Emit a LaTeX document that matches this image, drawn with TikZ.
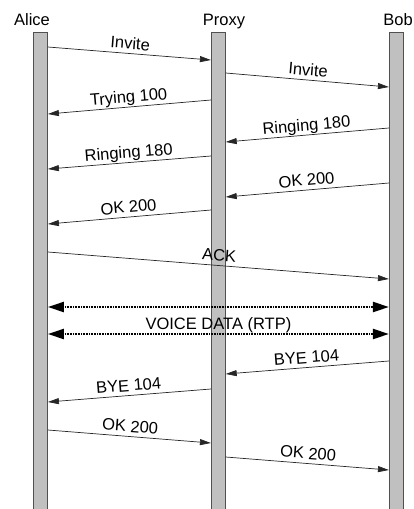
\documentclass[tikz,border=0pt]{standalone}
\usepackage{fontspec}
\setmainfont{Liberation Sans}
\usetikzlibrary{arrows.meta}
\definecolor{barfill}{HTML}{C0C0C0}
\definecolor{barline}{HTML}{505050}
\tikzset{
  lifeline/.style={draw=barline,fill=barfill,line width=0.8pt,minimum width=14pt,minimum height=477pt,inner sep=0pt},
  msg/.style={draw=black!85,line width=0.7pt,-{Triangle[length=11pt,width=6pt]}},
  voice/.style={line width=2.2pt,dash pattern=on 0.8pt off 0.8pt,{Triangle[length=16pt,width=10pt]}-{Triangle[length=16pt,width=10pt]}},
  lbl/.style={midway,above,sloped,text depth=0pt,inner sep=4pt},
}

\begin{document}
\begin{tikzpicture}[x=1pt,y=-1pt,font=\fontsize{16.5}{19}\selectfont]
  \useasboundingbox (0,0) rectangle (414,509);
  % lifelines
  \node[lifeline] (alice) at (40.5,270.7) {};
  \node[lifeline] (proxy) at (218.3,270.7) {};
  \node[lifeline] (bob) at (396.3,270.7) {};
  \node[anchor=base] (alicename) at (32,25) {Alice};
  \node[anchor=base] (proxyname) at (224,25) {Proxy};
  \node[anchor=base] (bobname) at (398,25) {Bob};
  % messages
  \foreach \s/\e/\ya/\yb/\txt in {
      alice.east/proxy.west/47/60/Invite,
      proxy.east/bob.west/73/87/Invite,
      proxy.west/alice.east/100/114/Trying 100,
      bob.west/proxy.east/128/142/Ringing 180,
      proxy.west/alice.east/156/169/Ringing 180,
      bob.west/proxy.east/183/197/OK 200,
      proxy.west/alice.east/210/224/OK 200,
      alice.east/bob.west/252/279/ACK,
      bob.west/proxy.east/361/374/BYE 104,
      proxy.west/alice.east/389/402/BYE 104,
      alice.east/proxy.west/430/443/OK 200,
      proxy.east/bob.west/457/470/OK 200}
    \draw[msg] (\s |- 0,\ya) -- node[lbl] {\txt} (\e |- 0,\yb);
  % media stream
  \draw[voice] (alice.east |- 0,307) -- (bob.west |- 0,307);
  \draw[voice] (alice.east |- 0,334) -- node[above,inner sep=0pt] (rtp) {VOICE DATA (RTP)} (bob.west |- 0,334);
\end{tikzpicture}
\end{document}
